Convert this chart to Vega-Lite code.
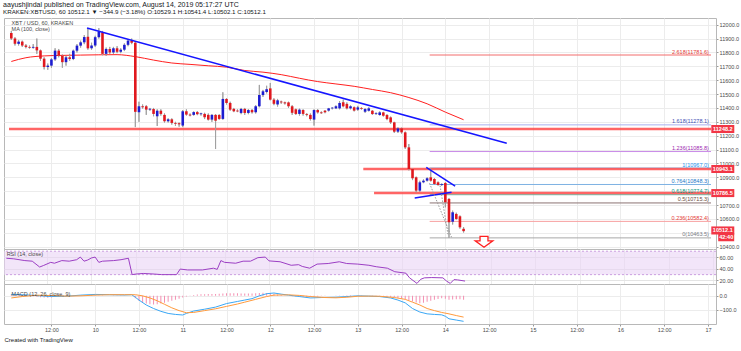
{
  "$schema": "https://vega.github.io/schema/vega-lite/v6.json",
  "background": "white",
  "padding": {"left": 3, "top": 0, "right": 0, "bottom": 0},
  "spacing": 0,
  "bounds": "flush",
  "title": {
    "text": "aayushjindal published on TradingView.com, August 14, 2019 05:17:27 UTC",
    "subtitle": "KRAKEN:XBTUSD, 60  10512.1 ▼ −344.9 (−3.18%)  O:10529.1 H:10541.4 L:10502.1 C:10512.1",
    "anchor": "start",
    "frame": "bounds",
    "font": "Liberation Sans",
    "fontSize": 7,
    "fontWeight": "normal",
    "color": "#131722",
    "subtitleFont": "Liberation Sans",
    "subtitleFontSize": 6.2,
    "subtitleFontWeight": "normal",
    "subtitleColor": "#131722",
    "subtitlePadding": 1.5,
    "offset": 2
  },
  "config": {
    "font": "Liberation Sans",
    "view": {"stroke": "#b8b8b8", "strokeWidth": 1},
    "axis": {"labelFont": "Liberation Sans", "labelFontSize": 5.5, "labelColor": "#4a4a4a", "tickColor": "#9a9a9a", "gridColor": "#ececec", "domain": false},
    "text": {"font": "Liberation Sans"}
  },
  "datasets": {
    "candles": [
      {"t":"2019-08-09T01:00:00Z","o":11940,"hi":11955,"lo":11890,"c":11900,"hist":12},
      {"t":"2019-08-09T02:00:00Z","o":11900,"hi":11910,"lo":11850,"c":11862,"hist":12},
      {"t":"2019-08-09T03:00:00Z","o":11862,"hi":11890,"lo":11850,"c":11878,"hist":10},
      {"t":"2019-08-09T04:00:00Z","o":11878,"hi":11885,"lo":11840,"c":11850,"hist":8},
      {"t":"2019-08-09T05:00:00Z","o":11850,"hi":11860,"lo":11830,"c":11840,"hist":6},
      {"t":"2019-08-09T06:00:00Z","o":11840,"hi":11850,"lo":11828,"c":11834,"hist":4},
      {"t":"2019-08-09T07:00:00Z","o":11834,"hi":11860,"lo":11828,"c":11840,"hist":-3},
      {"t":"2019-08-09T08:00:00Z","o":11840,"hi":11900,"lo":11790,"c":11815,"hist":-6},
      {"t":"2019-08-09T09:00:00Z","o":11815,"hi":11820,"lo":11740,"c":11755,"hist":-10},
      {"t":"2019-08-09T10:00:00Z","o":11755,"hi":11765,"lo":11678,"c":11695,"hist":-12},
      {"t":"2019-08-09T11:00:00Z","o":11695,"hi":11720,"lo":11675,"c":11705,"hist":-14},
      {"t":"2019-08-09T12:00:00Z","o":11705,"hi":11760,"lo":11690,"c":11750,"hist":-12},
      {"t":"2019-08-09T13:00:00Z","o":11750,"hi":11830,"lo":11740,"c":11813,"hist":-8},
      {"t":"2019-08-09T14:00:00Z","o":11813,"hi":11825,"lo":11765,"c":11777,"hist":-5},
      {"t":"2019-08-09T15:00:00Z","o":11777,"hi":11785,"lo":11690,"c":11730,"hist":-3},
      {"t":"2019-08-09T16:00:00Z","o":11730,"hi":11775,"lo":11705,"c":11765,"hist":-2},
      {"t":"2019-08-09T17:00:00Z","o":11765,"hi":11790,"lo":11740,"c":11753,"hist":0},
      {"t":"2019-08-09T18:00:00Z","o":11753,"hi":11820,"lo":11745,"c":11813,"hist":2},
      {"t":"2019-08-09T19:00:00Z","o":11813,"hi":11860,"lo":11800,"c":11849,"hist":3},
      {"t":"2019-08-09T20:00:00Z","o":11849,"hi":11885,"lo":11835,"c":11873,"hist":4},
      {"t":"2019-08-09T21:00:00Z","o":11873,"hi":11925,"lo":11860,"c":11911,"hist":4},
      {"t":"2019-08-09T22:00:00Z","o":11913,"hi":11975,"lo":11820,"c":11830,"hist":5},
      {"t":"2019-08-09T23:00:00Z","o":11830,"hi":11870,"lo":11820,"c":11850,"hist":5},
      {"t":"2019-08-10T00:00:00Z","o":11850,"hi":11920,"lo":11840,"c":11910,"hist":4},
      {"t":"2019-08-10T01:00:00Z","o":11910,"hi":11975,"lo":11900,"c":11950,"hist":3},
      {"t":"2019-08-10T02:00:00Z","o":11945,"hi":11955,"lo":11780,"c":11790,"hist":2},
      {"t":"2019-08-10T03:00:00Z","o":11790,"hi":11835,"lo":11775,"c":11825,"hist":1},
      {"t":"2019-08-10T04:00:00Z","o":11825,"hi":11840,"lo":11790,"c":11800,"hist":0},
      {"t":"2019-08-10T05:00:00Z","o":11800,"hi":11840,"lo":11790,"c":11830,"hist":-1},
      {"t":"2019-08-10T06:00:00Z","o":11830,"hi":11845,"lo":11795,"c":11805,"hist":-2},
      {"t":"2019-08-10T07:00:00Z","o":11805,"hi":11830,"lo":11795,"c":11820,"hist":-2},
      {"t":"2019-08-10T08:00:00Z","o":11820,"hi":11865,"lo":11810,"c":11855,"hist":-1},
      {"t":"2019-08-10T09:00:00Z","o":11855,"hi":11895,"lo":11845,"c":11885,"hist":0},
      {"t":"2019-08-10T10:00:00Z","o":11885,"hi":11900,"lo":11860,"c":11870,"hist":0},
      {"t":"2019-08-10T11:00:00Z","o":11870,"hi":11880,"lo":11262,"c":11372,"hist":-18},
      {"t":"2019-08-10T12:00:00Z","o":11369,"hi":11445,"lo":11300,"c":11412,"hist":-35},
      {"t":"2019-08-10T13:00:00Z","o":11412,"hi":11425,"lo":11395,"c":11405,"hist":-48},
      {"t":"2019-08-10T14:00:00Z","o":11412,"hi":11420,"lo":11350,"c":11388,"hist":-55},
      {"t":"2019-08-10T15:00:00Z","o":11388,"hi":11400,"lo":11380,"c":11394,"hist":-60},
      {"t":"2019-08-10T16:00:00Z","o":11392,"hi":11400,"lo":11340,"c":11357,"hist":-62},
      {"t":"2019-08-10T17:00:00Z","o":11340,"hi":11390,"lo":11270,"c":11380,"hist":-60},
      {"t":"2019-08-10T18:00:00Z","o":11380,"hi":11390,"lo":11345,"c":11357,"hist":-55},
      {"t":"2019-08-10T19:00:00Z","o":11350,"hi":11360,"lo":11295,"c":11304,"hist":-50},
      {"t":"2019-08-10T20:00:00Z","o":11304,"hi":11325,"lo":11295,"c":11318,"hist":-42},
      {"t":"2019-08-10T21:00:00Z","o":11318,"hi":11325,"lo":11280,"c":11292,"hist":-35},
      {"t":"2019-08-10T22:00:00Z","o":11292,"hi":11300,"lo":11270,"c":11286,"hist":-28},
      {"t":"2019-08-10T23:00:00Z","o":11290,"hi":11295,"lo":11265,"c":11282,"hist":-20},
      {"t":"2019-08-11T00:00:00Z","o":11273,"hi":11385,"lo":11262,"c":11376,"hist":-12},
      {"t":"2019-08-11T01:00:00Z","o":11376,"hi":11390,"lo":11345,"c":11352,"hist":-5},
      {"t":"2019-08-11T02:00:00Z","o":11352,"hi":11360,"lo":11340,"c":11346,"hist":2},
      {"t":"2019-08-11T03:00:00Z","o":11350,"hi":11375,"lo":11345,"c":11370,"hist":6},
      {"t":"2019-08-11T04:00:00Z","o":11370,"hi":11378,"lo":11348,"c":11355,"hist":9},
      {"t":"2019-08-11T05:00:00Z","o":11355,"hi":11365,"lo":11345,"c":11361,"hist":11},
      {"t":"2019-08-11T06:00:00Z","o":11357,"hi":11365,"lo":11320,"c":11333,"hist":12},
      {"t":"2019-08-11T07:00:00Z","o":11350,"hi":11360,"lo":11310,"c":11316,"hist":13},
      {"t":"2019-08-11T08:00:00Z","o":11316,"hi":11355,"lo":11300,"c":11350,"hist":13},
      {"t":"2019-08-11T09:00:00Z","o":11350,"hi":11355,"lo":11104,"c":11308,"hist":13},
      {"t":"2019-08-11T10:00:00Z","o":11349,"hi":11355,"lo":11315,"c":11321,"hist":14},
      {"t":"2019-08-11T11:00:00Z","o":11321,"hi":11513,"lo":11315,"c":11465,"hist":16},
      {"t":"2019-08-11T12:00:00Z","o":11465,"hi":11470,"lo":11425,"c":11436,"hist":18},
      {"t":"2019-08-11T13:00:00Z","o":11436,"hi":11445,"lo":11380,"c":11388,"hist":18},
      {"t":"2019-08-11T14:00:00Z","o":11393,"hi":11400,"lo":11370,"c":11376,"hist":18},
      {"t":"2019-08-11T15:00:00Z","o":11381,"hi":11390,"lo":11370,"c":11375,"hist":18},
      {"t":"2019-08-11T16:00:00Z","o":11364,"hi":11400,"lo":11355,"c":11393,"hist":17},
      {"t":"2019-08-11T17:00:00Z","o":11393,"hi":11400,"lo":11350,"c":11364,"hist":16},
      {"t":"2019-08-11T18:00:00Z","o":11364,"hi":11392,"lo":11355,"c":11385,"hist":16},
      {"t":"2019-08-11T19:00:00Z","o":11385,"hi":11392,"lo":11360,"c":11369,"hist":17},
      {"t":"2019-08-11T20:00:00Z","o":11369,"hi":11420,"lo":11360,"c":11412,"hist":18},
      {"t":"2019-08-11T21:00:00Z","o":11412,"hi":11566,"lo":11405,"c":11493,"hist":20},
      {"t":"2019-08-11T22:00:00Z","o":11493,"hi":11530,"lo":11480,"c":11520,"hist":21},
      {"t":"2019-08-11T23:00:00Z","o":11515,"hi":11560,"lo":11505,"c":11535,"hist":20},
      {"t":"2019-08-12T00:00:00Z","o":11541,"hi":11580,"lo":11455,"c":11460,"hist":18},
      {"t":"2019-08-12T01:00:00Z","o":11460,"hi":11470,"lo":11420,"c":11430,"hist":15},
      {"t":"2019-08-12T02:00:00Z","o":11425,"hi":11465,"lo":11410,"c":11455,"hist":10},
      {"t":"2019-08-12T03:00:00Z","o":11446,"hi":11452,"lo":11430,"c":11440,"hist":6},
      {"t":"2019-08-12T04:00:00Z","o":11440,"hi":11445,"lo":11425,"c":11433,"hist":3},
      {"t":"2019-08-12T05:00:00Z","o":11440,"hi":11445,"lo":11400,"c":11412,"hist":0},
      {"t":"2019-08-12T06:00:00Z","o":11412,"hi":11420,"lo":11350,"c":11365,"hist":-3},
      {"t":"2019-08-12T07:00:00Z","o":11390,"hi":11395,"lo":11350,"c":11357,"hist":-5},
      {"t":"2019-08-12T08:00:00Z","o":11357,"hi":11395,"lo":11345,"c":11388,"hist":-7},
      {"t":"2019-08-12T09:00:00Z","o":11385,"hi":11390,"lo":11345,"c":11357,"hist":-9},
      {"t":"2019-08-12T10:00:00Z","o":11355,"hi":11362,"lo":11340,"c":11349,"hist":-10},
      {"t":"2019-08-12T11:00:00Z","o":11350,"hi":11360,"lo":11310,"c":11320,"hist":-10},
      {"t":"2019-08-12T12:00:00Z","o":11316,"hi":11390,"lo":11273,"c":11385,"hist":-6},
      {"t":"2019-08-12T13:00:00Z","o":11385,"hi":11392,"lo":11360,"c":11368,"hist":-4},
      {"t":"2019-08-12T14:00:00Z","o":11368,"hi":11375,"lo":11358,"c":11362,"hist":-2},
      {"t":"2019-08-12T15:00:00Z","o":11380,"hi":11385,"lo":11362,"c":11369,"hist":-1},
      {"t":"2019-08-12T16:00:00Z","o":11381,"hi":11400,"lo":11375,"c":11397,"hist":0},
      {"t":"2019-08-12T17:00:00Z","o":11397,"hi":11405,"lo":11390,"c":11402,"hist":1},
      {"t":"2019-08-12T18:00:00Z","o":11397,"hi":11418,"lo":11392,"c":11412,"hist":2},
      {"t":"2019-08-12T19:00:00Z","o":11397,"hi":11450,"lo":11390,"c":11436,"hist":3},
      {"t":"2019-08-12T20:00:00Z","o":11441,"hi":11460,"lo":11405,"c":11412,"hist":3},
      {"t":"2019-08-12T21:00:00Z","o":11429,"hi":11440,"lo":11390,"c":11397,"hist":4},
      {"t":"2019-08-12T22:00:00Z","o":11397,"hi":11418,"lo":11390,"c":11412,"hist":4},
      {"t":"2019-08-12T23:00:00Z","o":11405,"hi":11410,"lo":11375,"c":11381,"hist":3},
      {"t":"2019-08-13T00:00:00Z","o":11388,"hi":11415,"lo":11380,"c":11404,"hist":3},
      {"t":"2019-08-13T01:00:00Z","o":11400,"hi":11405,"lo":11388,"c":11394,"hist":2},
      {"t":"2019-08-13T02:00:00Z","o":11373,"hi":11398,"lo":11365,"c":11392,"hist":1},
      {"t":"2019-08-13T03:00:00Z","o":11380,"hi":11405,"lo":11375,"c":11397,"hist":0},
      {"t":"2019-08-13T04:00:00Z","o":11380,"hi":11385,"lo":11350,"c":11356,"hist":-1},
      {"t":"2019-08-13T05:00:00Z","o":11358,"hi":11368,"lo":11350,"c":11363,"hist":-2},
      {"t":"2019-08-13T06:00:00Z","o":11349,"hi":11375,"lo":11345,"c":11368,"hist":-3},
      {"t":"2019-08-13T07:00:00Z","o":11368,"hi":11372,"lo":11338,"c":11344,"hist":-5},
      {"t":"2019-08-13T08:00:00Z","o":11349,"hi":11355,"lo":11312,"c":11320,"hist":-6},
      {"t":"2019-08-13T09:00:00Z","o":11332,"hi":11338,"lo":11285,"c":11296,"hist":-8},
      {"t":"2019-08-13T10:00:00Z","o":11296,"hi":11300,"lo":11220,"c":11229,"hist":-10},
      {"t":"2019-08-13T11:00:00Z","o":11229,"hi":11260,"lo":11220,"c":11253,"hist":-15},
      {"t":"2019-08-13T12:00:00Z","o":11253,"hi":11258,"lo":11215,"c":11224,"hist":-20},
      {"t":"2019-08-13T13:00:00Z","o":11224,"hi":11230,"lo":11105,"c":11116,"hist":-25},
      {"t":"2019-08-13T14:00:00Z","o":11116,"hi":11140,"lo":10950,"c":10960,"hist":-32},
      {"t":"2019-08-13T15:00:00Z","o":10960,"hi":10965,"lo":10880,"c":10893,"hist":-40},
      {"t":"2019-08-13T16:00:00Z","o":10900,"hi":10905,"lo":10790,"c":10804,"hist":-48},
      {"t":"2019-08-13T17:00:00Z","o":10804,"hi":10875,"lo":10795,"c":10864,"hist":-52},
      {"t":"2019-08-13T18:00:00Z","o":10864,"hi":10885,"lo":10858,"c":10876,"hist":-50},
      {"t":"2019-08-13T19:00:00Z","o":10876,"hi":10900,"lo":10870,"c":10893,"hist":-42},
      {"t":"2019-08-13T20:00:00Z","o":10900,"hi":10967,"lo":10870,"c":10876,"hist":-35},
      {"t":"2019-08-13T21:00:00Z","o":10888,"hi":10895,"lo":10845,"c":10852,"hist":-28},
      {"t":"2019-08-13T22:00:00Z","o":10864,"hi":10870,"lo":10840,"c":10845,"hist":-22},
      {"t":"2019-08-13T23:00:00Z","o":10845,"hi":10856,"lo":10838,"c":10851,"hist":-18},
      {"t":"2019-08-14T00:00:00Z","o":10859,"hi":10865,"lo":10684,"c":10720,"hist":-20},
      {"t":"2019-08-14T01:00:00Z","o":10744,"hi":10750,"lo":10463.5,"c":10576,"hist":-28},
      {"t":"2019-08-14T02:00:00Z","o":10580,"hi":10660,"lo":10560,"c":10648,"hist":-26},
      {"t":"2019-08-14T03:00:00Z","o":10636,"hi":10645,"lo":10595,"c":10600,"hist":-24},
      {"t":"2019-08-14T04:00:00Z","o":10619,"hi":10625,"lo":10530,"c":10540,"hist":-25},
      {"t":"2019-08-14T05:00:00Z","o":10529.1,"hi":10541.4,"lo":10502.1,"c":10512.1,"hist":-27}
    ],
    "ma": [
      {"t":"2019-08-09T01:00:00Z","v":11735},{"t":"2019-08-09T05:00:00Z","v":11762},
      {"t":"2019-08-09T10:00:00Z","v":11775},{"t":"2019-08-09T15:00:00Z","v":11779},
      {"t":"2019-08-09T20:00:00Z","v":11781},{"t":"2019-08-10T01:00:00Z","v":11783},
      {"t":"2019-08-10T06:00:00Z","v":11784},{"t":"2019-08-10T11:00:00Z","v":11770},
      {"t":"2019-08-10T16:00:00Z","v":11745},{"t":"2019-08-10T21:00:00Z","v":11724},
      {"t":"2019-08-11T02:00:00Z","v":11714},{"t":"2019-08-11T07:00:00Z","v":11704},
      {"t":"2019-08-11T12:00:00Z","v":11694},{"t":"2019-08-11T17:00:00Z","v":11670},
      {"t":"2019-08-11T22:00:00Z","v":11658},{"t":"2019-08-12T03:00:00Z","v":11640},
      {"t":"2019-08-12T08:00:00Z","v":11614},{"t":"2019-08-12T13:00:00Z","v":11590},
      {"t":"2019-08-12T18:00:00Z","v":11573},{"t":"2019-08-12T23:00:00Z","v":11556},
      {"t":"2019-08-13T04:00:00Z","v":11533},{"t":"2019-08-13T09:00:00Z","v":11510},
      {"t":"2019-08-13T14:00:00Z","v":11475},{"t":"2019-08-13T19:00:00Z","v":11430},
      {"t":"2019-08-14T00:00:00Z","v":11370},{"t":"2019-08-14T05:00:00Z","v":11315}
    ],
    "fibs": [
      {"k":"2.618","p":11781.6,"lab":"2.618(11781.6)"},
      {"k":"1.618","p":11278.1,"lab":"1.618(11278.1)"},
      {"k":"1.236","p":11085.8,"lab":"1.236(11085.8)"},
      {"k":"1","p":10967.0,"lab":"1(10967.0)"},
      {"k":"0.764","p":10848.3,"lab":"0.764(10848.3)"},
      {"k":"0.618","p":10774.7,"lab":"0.618(10774.7)"},
      {"k":"0.5","p":10715.3,"lab":"0.5(10715.3)"},
      {"k":"0.236","p":10582.4,"lab":"0.236(10582.4)"},
      {"k":"0","p":10463.5,"lab":"0(10463.5)"}
    ],
    "levels": [
      {"from":"2019-08-09T00:22:00Z","p":11248.2},
      {"from":"2019-08-13T01:30:00Z","p":10960},
      {"from":"2019-08-13T04:27:00Z","p":10786.5}
    ],
    "trends": [
      {"id":"A","t":"2019-08-09T21:46:00Z","p":11976},
      {"id":"A","t":"2019-08-14T16:50:00Z","p":11145},
      {"id":"B","t":"2019-08-13T18:46:00Z","p":10972},
      {"id":"B","t":"2019-08-14T02:41:00Z","p":10837},
      {"id":"C","t":"2019-08-13T15:36:00Z","p":10751},
      {"id":"C","t":"2019-08-14T01:42:00Z","p":10792}
    ],
    "fibtrend": [
      {"id":"D1","t":"2019-08-13T19:40:00Z","p":10857},
      {"id":"D1","t":"2019-08-14T01:42:00Z","p":10468},
      {"id":"D2","t":"2019-08-13T22:33:00Z","p":10840},
      {"id":"D2","t":"2019-08-14T00:42:00Z","p":10490}
    ],
    "tags": [
      {"p":11248.2,"txt":"11248.2"},
      {"p":10960,"txt":"10943.1"},
      {"p":10786.5,"txt":"10786.5"},
      {"p":10517,"txt":"10512.1"}
    ],
    "rsi": [
      {"t":"2019-08-09T01:00:00Z","v":58},{"t":"2019-08-09T03:00:00Z","v":57},
      {"t":"2019-08-09T06:00:00Z","v":54},{"t":"2019-08-09T08:00:00Z","v":53},
      {"t":"2019-08-09T10:00:00Z","v":43},{"t":"2019-08-09T11:00:00Z","v":45.5},
      {"t":"2019-08-09T13:00:00Z","v":51},{"t":"2019-08-09T14:00:00Z","v":49.5},
      {"t":"2019-08-09T16:00:00Z","v":54},{"t":"2019-08-09T18:00:00Z","v":53},
      {"t":"2019-08-09T20:00:00Z","v":55.5},{"t":"2019-08-09T21:00:00Z","v":60},
      {"t":"2019-08-09T22:00:00Z","v":53},{"t":"2019-08-09T23:00:00Z","v":55},
      {"t":"2019-08-10T00:00:00Z","v":58.5},{"t":"2019-08-10T01:00:00Z","v":60},
      {"t":"2019-08-10T02:00:00Z","v":51},{"t":"2019-08-10T03:00:00Z","v":53},
      {"t":"2019-08-10T06:00:00Z","v":54},{"t":"2019-08-10T08:00:00Z","v":55.5},
      {"t":"2019-08-10T10:00:00Z","v":58},{"t":"2019-08-10T11:00:00Z","v":30},
      {"t":"2019-08-10T12:00:00Z","v":31},{"t":"2019-08-10T14:00:00Z","v":32},
      {"t":"2019-08-10T17:00:00Z","v":31},{"t":"2019-08-10T19:00:00Z","v":30},
      {"t":"2019-08-10T23:00:00Z","v":30},{"t":"2019-08-11T00:00:00Z","v":39.5},
      {"t":"2019-08-11T02:00:00Z","v":38},{"t":"2019-08-11T06:00:00Z","v":38},
      {"t":"2019-08-11T09:00:00Z","v":41},{"t":"2019-08-11T10:00:00Z","v":39},
      {"t":"2019-08-11T11:00:00Z","v":54},{"t":"2019-08-11T12:00:00Z","v":51},
      {"t":"2019-08-11T15:00:00Z","v":49.5},{"t":"2019-08-11T17:00:00Z","v":53},
      {"t":"2019-08-11T19:00:00Z","v":53},{"t":"2019-08-11T21:00:00Z","v":59},
      {"t":"2019-08-11T23:00:00Z","v":60},{"t":"2019-08-12T00:00:00Z","v":53.5},
      {"t":"2019-08-12T03:00:00Z","v":52},{"t":"2019-08-12T06:00:00Z","v":46},
      {"t":"2019-08-12T08:00:00Z","v":47},{"t":"2019-08-12T09:00:00Z","v":44},
      {"t":"2019-08-12T11:00:00Z","v":41},{"t":"2019-08-12T13:00:00Z","v":48},
      {"t":"2019-08-12T16:00:00Z","v":49},{"t":"2019-08-12T19:00:00Z","v":52},
      {"t":"2019-08-12T21:00:00Z","v":49},{"t":"2019-08-13T00:00:00Z","v":48},
      {"t":"2019-08-13T03:00:00Z","v":46},{"t":"2019-08-13T05:00:00Z","v":43.5},
      {"t":"2019-08-13T08:00:00Z","v":41},{"t":"2019-08-13T10:00:00Z","v":35},
      {"t":"2019-08-13T13:00:00Z","v":32.5},{"t":"2019-08-13T14:00:00Z","v":24.5},
      {"t":"2019-08-13T16:00:00Z","v":15},{"t":"2019-08-13T17:00:00Z","v":22},
      {"t":"2019-08-13T18:00:00Z","v":24.5},{"t":"2019-08-13T20:00:00Z","v":25},
      {"t":"2019-08-13T23:00:00Z","v":24.5},{"t":"2019-08-14T00:00:00Z","v":19},
      {"t":"2019-08-14T01:00:00Z","v":15},{"t":"2019-08-14T02:00:00Z","v":21.5},
      {"t":"2019-08-14T03:00:00Z","v":21},{"t":"2019-08-14T05:00:00Z","v":19}
    ],
    "macd": [
      {"s":"MACD","t":"2019-08-09T01:00:00Z","v":10},{"s":"MACD","t":"2019-08-09T04:00:00Z","v":8},
      {"s":"MACD","t":"2019-08-09T08:00:00Z","v":2},{"s":"MACD","t":"2019-08-09T12:00:00Z","v":-5},
      {"s":"MACD","t":"2019-08-09T16:00:00Z","v":-3},{"s":"MACD","t":"2019-08-09T20:00:00Z","v":5},
      {"s":"MACD","t":"2019-08-10T00:00:00Z","v":10},{"s":"MACD","t":"2019-08-10T04:00:00Z","v":8},
      {"s":"MACD","t":"2019-08-10T08:00:00Z","v":6},{"s":"MACD","t":"2019-08-10T10:00:00Z","v":8},
      {"s":"MACD","t":"2019-08-10T11:00:00Z","v":-10},{"s":"MACD","t":"2019-08-10T12:00:00Z","v":-30},
      {"s":"MACD","t":"2019-08-10T14:00:00Z","v":-65},{"s":"MACD","t":"2019-08-10T16:00:00Z","v":-90},
      {"s":"MACD","t":"2019-08-10T18:00:00Z","v":-110},{"s":"MACD","t":"2019-08-10T20:00:00Z","v":-125},
      {"s":"MACD","t":"2019-08-10T22:00:00Z","v":-132},{"s":"MACD","t":"2019-08-11T00:00:00Z","v":-136},
      {"s":"MACD","t":"2019-08-11T01:00:00Z","v":-125},{"s":"MACD","t":"2019-08-11T03:00:00Z","v":-108},
      {"s":"MACD","t":"2019-08-11T06:00:00Z","v":-95},{"s":"MACD","t":"2019-08-11T09:00:00Z","v":-80},
      {"s":"MACD","t":"2019-08-11T12:00:00Z","v":-55},{"s":"MACD","t":"2019-08-11T15:00:00Z","v":-40},
      {"s":"MACD","t":"2019-08-11T17:00:00Z","v":-30},{"s":"MACD","t":"2019-08-11T19:00:00Z","v":-20},
      {"s":"MACD","t":"2019-08-11T21:00:00Z","v":0},{"s":"MACD","t":"2019-08-11T23:00:00Z","v":15},
      {"s":"MACD","t":"2019-08-12T01:00:00Z","v":20},{"s":"MACD","t":"2019-08-12T03:00:00Z","v":12},
      {"s":"MACD","t":"2019-08-12T05:00:00Z","v":5},{"s":"MACD","t":"2019-08-12T08:00:00Z","v":-5},
      {"s":"MACD","t":"2019-08-12T11:00:00Z","v":-15},{"s":"MACD","t":"2019-08-12T14:00:00Z","v":-12},
      {"s":"MACD","t":"2019-08-12T18:00:00Z","v":-10},{"s":"MACD","t":"2019-08-12T21:00:00Z","v":-5},
      {"s":"MACD","t":"2019-08-13T00:00:00Z","v":0},{"s":"MACD","t":"2019-08-13T03:00:00Z","v":-2},
      {"s":"MACD","t":"2019-08-13T06:00:00Z","v":-5},{"s":"MACD","t":"2019-08-13T09:00:00Z","v":-15},
      {"s":"MACD","t":"2019-08-13T11:00:00Z","v":-30},{"s":"MACD","t":"2019-08-13T13:00:00Z","v":-50},
      {"s":"MACD","t":"2019-08-13T15:00:00Z","v":-90},{"s":"MACD","t":"2019-08-13T17:00:00Z","v":-115},
      {"s":"MACD","t":"2019-08-13T19:00:00Z","v":-128},{"s":"MACD","t":"2019-08-13T21:00:00Z","v":-132},
      {"s":"MACD","t":"2019-08-13T23:00:00Z","v":-135},{"s":"MACD","t":"2019-08-14T00:00:00Z","v":-145},
      {"s":"MACD","t":"2019-08-14T01:00:00Z","v":-163},{"s":"MACD","t":"2019-08-14T03:00:00Z","v":-172},
      {"s":"MACD","t":"2019-08-14T05:00:00Z","v":-181},
      {"s":"Signal","t":"2019-08-09T01:00:00Z","v":-15},{"s":"Signal","t":"2019-08-09T04:00:00Z","v":-5},
      {"s":"Signal","t":"2019-08-09T08:00:00Z","v":5},{"s":"Signal","t":"2019-08-09T12:00:00Z","v":2},
      {"s":"Signal","t":"2019-08-09T16:00:00Z","v":-2},{"s":"Signal","t":"2019-08-09T20:00:00Z","v":0},
      {"s":"Signal","t":"2019-08-10T00:00:00Z","v":5},{"s":"Signal","t":"2019-08-10T04:00:00Z","v":8},
      {"s":"Signal","t":"2019-08-10T08:00:00Z","v":8},{"s":"Signal","t":"2019-08-10T11:00:00Z","v":8},
      {"s":"Signal","t":"2019-08-10T13:00:00Z","v":0},{"s":"Signal","t":"2019-08-10T15:00:00Z","v":-15},
      {"s":"Signal","t":"2019-08-10T17:00:00Z","v":-35},{"s":"Signal","t":"2019-08-10T19:00:00Z","v":-60},
      {"s":"Signal","t":"2019-08-10T21:00:00Z","v":-85},{"s":"Signal","t":"2019-08-10T23:00:00Z","v":-105},
      {"s":"Signal","t":"2019-08-11T01:00:00Z","v":-120},{"s":"Signal","t":"2019-08-11T03:00:00Z","v":-118},
      {"s":"Signal","t":"2019-08-11T06:00:00Z","v":-105},{"s":"Signal","t":"2019-08-11T09:00:00Z","v":-92},
      {"s":"Signal","t":"2019-08-11T12:00:00Z","v":-75},{"s":"Signal","t":"2019-08-11T15:00:00Z","v":-58},
      {"s":"Signal","t":"2019-08-11T17:00:00Z","v":-45},{"s":"Signal","t":"2019-08-11T20:00:00Z","v":-25},
      {"s":"Signal","t":"2019-08-11T23:00:00Z","v":-5},{"s":"Signal","t":"2019-08-12T01:00:00Z","v":5},
      {"s":"Signal","t":"2019-08-12T05:00:00Z","v":7},{"s":"Signal","t":"2019-08-12T08:00:00Z","v":3},
      {"s":"Signal","t":"2019-08-12T11:00:00Z","v":-5},{"s":"Signal","t":"2019-08-12T15:00:00Z","v":-12},
      {"s":"Signal","t":"2019-08-12T18:00:00Z","v":-14},{"s":"Signal","t":"2019-08-12T21:00:00Z","v":-10},
      {"s":"Signal","t":"2019-08-13T00:00:00Z","v":-3},{"s":"Signal","t":"2019-08-13T03:00:00Z","v":-2},
      {"s":"Signal","t":"2019-08-13T06:00:00Z","v":-3},{"s":"Signal","t":"2019-08-13T10:00:00Z","v":-12},
      {"s":"Signal","t":"2019-08-13T13:00:00Z","v":-25},{"s":"Signal","t":"2019-08-13T15:00:00Z","v":-45},
      {"s":"Signal","t":"2019-08-13T17:00:00Z","v":-65},{"s":"Signal","t":"2019-08-13T19:00:00Z","v":-90},
      {"s":"Signal","t":"2019-08-13T21:00:00Z","v":-105},{"s":"Signal","t":"2019-08-13T23:00:00Z","v":-118},
      {"s":"Signal","t":"2019-08-14T01:00:00Z","v":-128},{"s":"Signal","t":"2019-08-14T03:00:00Z","v":-140},
      {"s":"Signal","t":"2019-08-14T05:00:00Z","v":-151}
    ]
  },
  "vconcat": [
    {
      "width": 712,
      "height": 231,
      "resolve": {"scale": {"stroke": "independent", "fill": "independent", "color": "independent"}},
      "layer": [
        {
          "data": {"name": "candles"},
          "mark": {"type": "rule", "color": "#a0a0a0", "strokeWidth": 1},
          "encoding": {
            "x": {"field": "t", "type": "temporal", "scale": {"type": "utc", "domain": [1565310120000, 1566003000000]},
                  "axis": {"orient": "bottom", "labels": false, "ticks": false, "domain": false, "grid": true, "gridColor": "#ececec", "title": null, "tickCount": 60,
                           "values": [1565352000000,1565395200000,1565438400000,1565481600000,1565524800000,1565568000000,1565611200000,1565654400000,1565697600000,1565740800000,1565784000000,1565827200000,1565870400000,1565913600000,1565956800000,1566000000000]}},
            "y": {"field": "lo", "type": "quantitative", "scale": {"domain": [10383.4, 12048.3], "nice": false, "zero": false},
                  "axis": {"orient": "right", "values": [10400,10500,10600,10700,10800,10900,11000,11100,11200,11300,11400,11500,11600,11700,11800,11900,12000], "tickCount": 60, "format": ".1f",
                           "labelExpr": "datum.value == 10500 || datum.value == 10800 ? '' : datum.label",
                           "grid": true, "gridColor": "#ececec", "title": null, "tickSize": 2, "labelPadding": 1, "labelOverlap": false, "labelBound": false}},
            "y2": {"field": "hi"}
          }
        },
        {
          "data": {"name": "fibs"},
          "mark": {"type": "rule", "strokeWidth": 1},
          "encoding": {
            "x": {"datum": {"year": 2019, "month": 8, "date": 13, "hours": 19, "minutes": 42, "utc": true}, "type": "temporal"},
            "x2": {"datum": {"year": 2019, "month": 8, "date": 17, "hours": 0, "minutes": 50, "utc": true}},
            "y": {"field": "p", "type": "quantitative"},
            "stroke": {"field": "k", "type": "nominal", "legend": null, "scale": {"domain": ["2.618","1.618","1.236","1","0.764","0.618","0.5","0.236","0"], "range": ["#f26d6d","#aab0ee","#c98be8","#7bbcf0","#7fb3e3","#5fb8a0","#8c7373","#f7a0a0","#a8a8a8"]}}
          }
        },
        {
          "data": {"name": "levels"},
          "mark": {"type": "rule", "color": "#ff4a4a", "strokeWidth": 2.5, "opacity": 0.85},
          "encoding": {
            "x": {"field": "from", "type": "temporal"},
            "x2": {"datum": {"year": 2019, "month": 8, "date": 17, "hours": 0, "minutes": 50, "utc": true}},
            "y": {"field": "p", "type": "quantitative"}
          }
        },
        {
          "data": {"name": "ma"},
          "mark": {"type": "line", "color": "#ff2020", "strokeWidth": 1, "interpolate": "monotone"},
          "encoding": {
            "x": {"field": "t", "type": "temporal"},
            "y": {"field": "v", "type": "quantitative"}
          }
        },
        {
          "data": {"name": "candles"},
          "mark": {"type": "rule", "color": "#a0a0a0", "strokeWidth": 1},
          "encoding": {
            "x": {"field": "t", "type": "temporal"},
            "y": {"field": "lo", "type": "quantitative"},
            "y2": {"field": "hi"}
          }
        },
        {
          "data": {"name": "candles"},
          "mark": {"type": "bar", "width": 2.6},
          "encoding": {
            "x": {"field": "t", "type": "temporal"},
            "y": {"field": "o", "type": "quantitative"},
            "y2": {"field": "c"},
            "color": {"condition": {"test": "datum.c < datum.o", "value": "#e0181e"}, "value": "#1c1cd0"}
          }
        },
        {
          "data": {"name": "trends"},
          "mark": {"type": "line", "color": "#1515ff", "strokeWidth": 1.5},
          "encoding": {
            "x": {"field": "t", "type": "temporal"},
            "y": {"field": "p", "type": "quantitative"},
            "detail": {"field": "id", "type": "nominal"}
          }
        },
        {
          "data": {"name": "fibtrend"},
          "mark": {"type": "line", "color": "#9a9a9a", "strokeWidth": 1, "strokeDash": [1.5, 1.5]},
          "encoding": {
            "x": {"field": "t", "type": "temporal"},
            "y": {"field": "p", "type": "quantitative"},
            "detail": {"field": "id", "type": "nominal"}
          }
        },
        {
          "data": {"name": "fibs"},
          "mark": {"type": "text", "align": "right", "baseline": "bottom", "dy": -0.5, "fontSize": 5.5},
          "encoding": {
            "x": {"datum": {"year": 2019, "month": 8, "date": 17, "hours": 0, "minutes": 15, "utc": true}, "type": "temporal"},
            "y": {"field": "p", "type": "quantitative"},
            "text": {"field": "lab"},
            "fill": {"field": "k", "type": "nominal", "legend": null, "scale": {"domain": ["2.618","1.618","1.236","1","0.764","0.618","0.5","0.236","0"], "range": ["#e53935","#3f51b5","#9c27b0","#2196f3","#1e78c8","#089981","#6d4c41","#e53935","#787b86"]}}
          }
        },
        {
          "data": {"values": [{"lab": "XBT / USD, 60, KRAKEN", "p": 12012}, {"lab": "MA (100, close)", "p": 11970}]},
          "mark": {"type": "text", "align": "left", "baseline": "middle", "fontSize": 5.5, "color": "#4a4a4a"},
          "encoding": {
            "x": {"datum": {"year": 2019, "month": 8, "date": 9, "hours": 1, "minutes": 5, "utc": true}, "type": "temporal"},
            "y": {"field": "p", "type": "quantitative"},
            "text": {"field": "lab"}
          }
        },
        {
          "data": {"values": [{"p": 10435}]},
          "mark": {"type": "point", "shape": "M-0.45,-0.62L0.45,-0.62L0.45,-0.12L1,-0.12L0,0.62L-1,-0.12L-0.45,-0.12Z", "size": 310, "filled": true, "fill": "white", "stroke": "#ff1f1f", "strokeWidth": 1.3, "opacity": 1},
          "encoding": {
            "x": {"datum": {"year": 2019, "month": 8, "date": 14, "hours": 10, "minutes": 36, "utc": true}, "type": "temporal"},
            "y": {"field": "p", "type": "quantitative"}
          }
        },
        {
          "data": {"name": "tags"},
          "mark": {"type": "point", "shape": "M-1,-0.35L1,-0.35L1,0.35L-1,0.35Z", "size": 529, "filled": true, "color": "#f23645", "opacity": 1},
          "encoding": {
            "x": {"datum": {"year": 2019, "month": 8, "date": 17, "hours": 4, "minutes": 4, "utc": true}, "type": "temporal"},
            "y": {"field": "p", "type": "quantitative"}
          }
        },
        {
          "data": {"name": "tags"},
          "mark": {"type": "text", "align": "center", "baseline": "middle", "fontSize": 5.5, "fontWeight": "bold", "color": "white"},
          "encoding": {
            "x": {"datum": {"year": 2019, "month": 8, "date": 17, "hours": 4, "minutes": 4, "utc": true}, "type": "temporal"},
            "y": {"field": "p", "type": "quantitative"},
            "text": {"field": "txt"}
          }
        },
        {
          "data": {"values": [{"p": 10468, "txt": "42:40"}]},
          "mark": {"type": "point", "shape": "M-1,-0.5L1,-0.5L1,0.5L-1,0.5Z", "size": 256, "filled": true, "color": "#f23645", "opacity": 1},
          "encoding": {
            "x": {"datum": {"year": 2019, "month": 8, "date": 17, "hours": 5, "minutes": 0, "utc": true}, "type": "temporal"},
            "y": {"field": "p", "type": "quantitative"}
          }
        },
        {
          "data": {"values": [{"p": 10468, "txt": "42:40"}]},
          "mark": {"type": "text", "align": "center", "baseline": "middle", "fontSize": 5.5, "fontWeight": "bold", "color": "white"},
          "encoding": {
            "x": {"datum": {"year": 2019, "month": 8, "date": 17, "hours": 5, "minutes": 0, "utc": true}, "type": "temporal"},
            "y": {"field": "p", "type": "quantitative"},
            "text": {"field": "txt"}
          }
        }
      ]
    },
    {
      "width": 712,
      "height": 35,
      "layer": [
        {
          "data": {"values": [{}]},
          "mark": {"type": "rect", "color": "#ead3f5", "opacity": 0.6},
          "encoding": {
            "y": {"datum": 70, "type": "quantitative"},
            "y2": {"datum": 30}
          }
        },
        {
          "data": {"values": [{"v": 70}, {"v": 30}]},
          "mark": {"type": "rule", "color": "#c08ad8", "strokeDash": [2, 2], "strokeWidth": 0.8},
          "encoding": {
            "y": {"field": "v", "type": "quantitative"}
          }
        },
        {
          "data": {"name": "rsi"},
          "mark": {"type": "line", "color": "#9c3fc4", "strokeWidth": 1},
          "encoding": {
            "x": {"field": "t", "type": "temporal", "scale": {"type": "utc", "domain": [1565310120000, 1566003000000]},
                  "axis": {"orient": "bottom", "labels": false, "ticks": false, "domain": false, "grid": true, "gridColor": "#ececec", "title": null, "tickCount": 60,
                           "values": [1565352000000,1565395200000,1565438400000,1565481600000,1565524800000,1565568000000,1565611200000,1565654400000,1565697600000,1565740800000,1565784000000,1565827200000,1565870400000,1565913600000,1565956800000,1566000000000]}},
            "y": {"field": "v", "type": "quantitative", "scale": {"domain": [14, 73.8], "nice": false, "zero": false},
                  "axis": {"orient": "right", "values": [20, 40, 60], "tickCount": 60, "format": ".2f", "grid": true, "gridColor": "#e4e4e4", "title": null, "tickSize": 2, "labelPadding": 1, "labelOverlap": false, "labelBound": false}}
          }
        },
        {
          "data": {"values": [{"p": 65, "lab": "RSI (14, close)"}]},
          "mark": {"type": "text", "align": "left", "baseline": "middle", "fontSize": 5.5, "color": "#4a4a4a"},
          "encoding": {
            "x": {"datum": {"year": 2019, "month": 8, "date": 9, "hours": 1, "minutes": 5, "utc": true}, "type": "temporal"},
            "y": {"field": "p", "type": "quantitative"},
            "text": {"field": "lab"}
          }
        }
      ]
    },
    {
      "width": 712,
      "height": 40,
      "layer": [
        {
          "data": {"name": "candles"},
          "mark": {"type": "bar", "width": 1, "color": "#f48fb1"},
          "encoding": {
            "x": {"field": "t", "type": "temporal", "scale": {"type": "utc", "domain": [1565310120000, 1566003000000]},
                  "axis": {"orient": "bottom", "grid": true, "gridColor": "#ececec", "tickCount": 60,
                           "values": [1565352000000,1565395200000,1565438400000,1565481600000,1565524800000,1565568000000,1565611200000,1565654400000,1565697600000,1565740800000,1565784000000,1565827200000,1565870400000,1565913600000,1565956800000,1566000000000],
                           "labelExpr": "utchours(datum.value) == 0 ? utcFormat(datum.value, '%-d') : '12:00'",
                           "labelFontSize": 5.5, "labelColor": "#4a4a4a", "ticks": true, "tickSize": 2, "tickColor": "#999999", "labelPadding": 1, "domain": false, "labelOverlap": false,
                           "title": "Created with TradingView", "titleAnchor": "start", "titleAlign": "left", "titleFontSize": 6, "titleFontWeight": "normal", "titleColor": "#131722", "titlePadding": 4}},
            "y": {"field": "hist", "type": "quantitative", "scale": {"domain": [-200, 84], "nice": false, "zero": false},
                  "axis": {"orient": "right", "values": [0, -100], "tickCount": 60, "format": ".1f", "grid": true, "gridColor": "#ececec", "title": null, "tickSize": 2, "labelPadding": 1, "labelOverlap": false}},
            "y2": {"datum": 0}
          }
        },
        {
          "data": {"name": "macd"},
          "mark": {"type": "line", "strokeWidth": 1},
          "encoding": {
            "x": {"field": "t", "type": "temporal"},
            "y": {"field": "v", "type": "quantitative"},
            "color": {"field": "s", "type": "nominal", "legend": null, "scale": {"domain": ["MACD", "Signal"], "range": ["#3aa7f5", "#ff9a3c"]}}
          }
        },
        {
          "data": {"values": [{"p": 16, "lab": "MACD (12, 26, close, 9)"}]},
          "mark": {"type": "text", "align": "left", "baseline": "middle", "fontSize": 5.5, "color": "#4a4a4a"},
          "encoding": {
            "x": {"datum": {"year": 2019, "month": 8, "date": 9, "hours": 1, "minutes": 5, "utc": true}, "type": "temporal"},
            "y": {"field": "p", "type": "quantitative"},
            "text": {"field": "lab"}
          }
        }
      ]
    }
  ]
}
